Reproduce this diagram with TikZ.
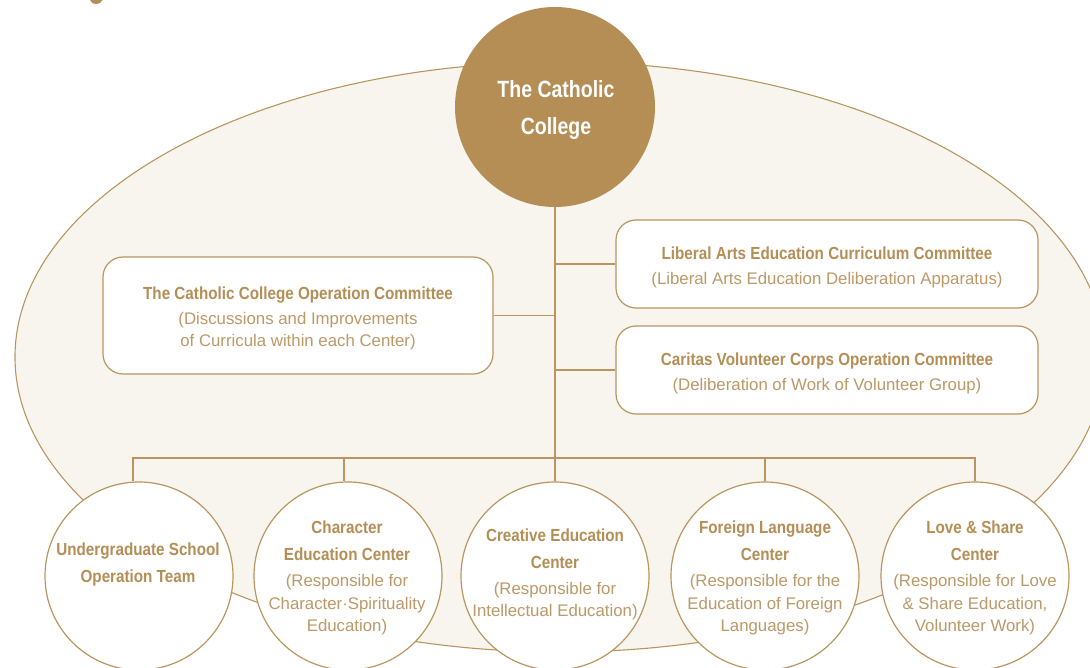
\documentclass[tikz,border=0pt]{standalone}
\usepackage{fontspec}
\setmainfont{Liberation Sans}
\newfontfamily\condfam[FakeStretch=0.87]{Liberation Sans}
\newfontfamily\topfam[FakeStretch=0.83]{Liberation Sans}
\definecolor{brn}{RGB}{181,142,86}
\definecolor{ln}{RGB}{186,149,96}
\definecolor{txb}{RGB}{181,142,86}
\definecolor{txr}{RGB}{188,153,104}
\definecolor{cream}{RGB}{248,245,239}
\newcommand\bol[1]{{\condfam\bfseries\fontsize{17.5}{22.5}\selectfont\color{txb}#1}}
\newcommand\rgl[1]{{\fontsize{16.8}{22.5}\selectfont\color{txr}#1}}
\tikzset{
  conn/.style={draw=ln, line width=1.1pt},
  boxnode/.style={draw=ln, line width=1.2pt, fill=white, rounded corners=20pt, inner sep=0pt},
  unit/.style={circle, draw=ln, line width=1.2pt, fill=white, minimum size=188pt, inner sep=0pt},
  txt/.style={align=center, inner sep=0pt, font=\fontsize{16.8}{22.5}\selectfont},
}
\begin{document}
\begin{tikzpicture}[x=1pt,y=-1pt]
\useasboundingbox (0,0) rectangle (1090,668);
% fragment of a heading glyph at the top-left
\fill[brn] (90,0) .. controls (92,5.5) and (100,5.5) .. (102.5,0) -- cycle;
% background ellipse
\draw[draw=ln, line width=1.1pt, fill=cream] (560,357) ellipse [x radius=545pt, y radius=295pt];
% top circle
\node[circle, fill=brn, minimum size=200pt, inner sep=0pt] (top) at (555,107) {};
\node[align=center, inner sep=0pt, font=\topfam\bfseries\fontsize{23.5}{37}\selectfont, text=white] (topt) at (556,109.5) {The Catholic\\College};
% hub coordinates
\coordinate (bus) at (555,458);
% boxes
\node[boxnode, minimum width=422pt, minimum height=88pt] (lib) at (827,264) {};
\node[boxnode, minimum width=422pt, minimum height=88pt] (car) at (827,370) {};
\node[boxnode, minimum width=390pt, minimum height=117pt] (ops) at (298,315.5) {};
\node[txt] (libt) at (827,267)
  {\bol{Liberal Arts Education Curriculum Committee}\\[2.5pt]\rgl{(Liberal Arts Education Deliberation Apparatus)}};
\node[txt] (cart) at (827,373)
  {\bol{Caritas Volunteer Corps Operation Committee}\\[2.5pt]\rgl{(Deliberation of Work of Volunteer Group)}};
\node[txt] (opst) at (298,318.5)
  {\bol{The Catholic College Operation Committee}\\[2.5pt]\rgl{(Discussions and Improvements}\\\rgl{of Curricula within each Center)}};
% bottom circles
\coordinate (p1) at (139,576);
\coordinate (p2) at (348,576);
\coordinate (p3) at (555,576);
\coordinate (p4) at (765,576);
\coordinate (p5) at (975,576);
\coordinate (d1) at (133,458);
\coordinate (d2) at (344,458);
% connectors (drawn before the white-filled shapes)
\draw[conn] (top.south) -- (bus);
\draw[conn] (lib.west) -- (lib.west -| bus);
\draw[conn] (car.west) -- (car.west -| bus);
\draw[conn] (ops.east) -- (ops.east -| bus);
\node[unit] (c1) at (p1) {};
\node[unit] (c2) at (p2) {};
\node[unit] (c3) at (p3) {};
\node[unit] (c4) at (p4) {};
\node[unit] (c5) at (p5) {};
\draw[conn] (bus) -- (d1) -- (d1 |- c1.north);
\draw[conn] (bus) -| (c5.north);
\draw[conn] (d2) -- (d2 |- c2.north);
\draw[conn] (c3.north) -- (bus);
\draw[conn] (c4.north) -- (c4.north |- bus);
% circle texts
\node[txt] (t1) at (138,564) {\bol{Undergraduate School}\\[4.5pt]\bol{Operation Team}};
\node[txt] (t2) at (347,578) {\bol{Character}\\[4.5pt]\bol{Education Center}\\[3.5pt]\rgl{(Responsible for}\\\rgl{Character·Spirituality}\\\rgl{Education)}};
\node[txt] (t3) at (555,574.5) {\bol{Creative Education}\\[4.5pt]\bol{Center}\\[3.5pt]\rgl{(Responsible for}\\\rgl{Intellectual Education)}};
\node[txt] (t4) at (765,578) {\bol{Foreign Language}\\[4.5pt]\bol{Center}\\[3.5pt]\rgl{(Responsible for the}\\\rgl{Education of Foreign}\\\rgl{Languages)}};
\node[txt] (t5) at (975,578) {\bol{Love \& Share}\\[4.5pt]\bol{Center}\\[3.5pt]\rgl{(Responsible for Love}\\\rgl{\& Share Education,}\\\rgl{Volunteer Work)}};
\end{tikzpicture}
\end{document}
